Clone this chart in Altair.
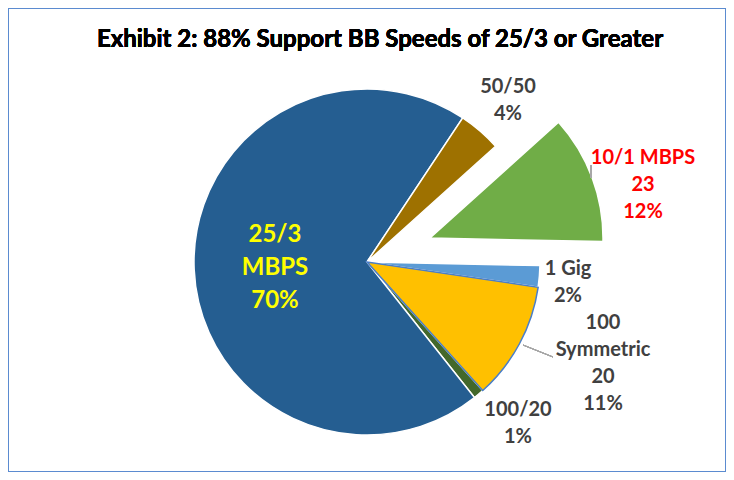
import math
import altair as alt
import pandas as pd

# ---- data ----
categories = ["10/1 MBPS", "1 Gig", "100 Symmetric", "100/20", "25/3 MBPS", "50/50"]
percents = [12, 2, 11, 1, 70, 4]
counts_shown = ["23", "", "20", "", "", ""]
colors = ["#70AD47", "#5B9BD5", "#FFC000", "#43682B", "#255E91", "#9E7100"]
title_text = "Exhibit 2: 88% Support BB Speeds of 25/3 or Greater"

# ---- layout (pixels, chart coordinates) ----
W, H = 718, 464
CX, CY = 359, 254
R = 173
START = math.radians(48)
EXPLODE = {"10/1 MBPS": (63, -24)}
# position of the first line of each label
label_pos = {
    "10/1 MBPS": (635, 150),
    "1 Gig": (560, 261),
    "100 Symmetric": (595, 315),
    "100/20": (510, 402),
    "25/3 MBPS": (267, 227),
    "50/50": (500, 79),
}

def label_text(cat, pct, cnt):
    name = cat
    if cat == "25/3 MBPS":
        name = "25/3\nMBPS"
    elif cat == "100 Symmetric":
        name = "100\nSymmetric"
    parts = [name]
    if cnt:
        parts.append(cnt)
    parts.append(f"{pct}%")
    return "\n".join(parts)

df = pd.DataFrame({
    "cat": categories,
    "pct": percents,
    "order": list(range(len(categories))),
    "label": [label_text(c, p, n) for c, p, n in zip(categories, percents, counts_shown)],
})

theta_scale = alt.Scale(domain=[0, 100], range=[START, START + 2 * math.pi])
color_scale = alt.Scale(domain=categories, range=colors)

base = alt.Chart(df).transform_window(
    cum="sum(pct)", sort=[alt.SortField("order")], frame=[None, 0]
).transform_calculate(start="datum.cum - datum.pct")

def arc_layer(filt, dx=0, dy=0, stroke="white", sw=1.5):
    return base.transform_filter(filt).mark_arc(
        stroke=stroke, strokeWidth=sw, radius=R
    ).encode(
        theta=alt.Theta("start:Q", scale=theta_scale),
        theta2="cum:Q",
        color=alt.Color("cat:N", scale=color_scale, legend=None),
        x=alt.value(CX + dx),
        y=alt.value(CY + dy),
    )

normal = arc_layer("datum.cat != '10/1 MBPS' && datum.cat != '100 Symmetric'")
yellow = arc_layer("datum.cat == '100 Symmetric'", stroke="#4A7EC8", sw=1.5)
green = arc_layer("datum.cat == '10/1 MBPS'", *EXPLODE["10/1 MBPS"])

layers = [normal, yellow, green]

label_style = {
    "10/1 MBPS": dict(color="#FF0000", fontSize=20, lineHeight=27),
    "25/3 MBPS": dict(color="#FFFF00", fontSize=24, lineHeight=33),
}
for cat in categories:
    st = label_style.get(cat, dict(color="#404040", fontSize=20, lineHeight=27))
    x, y = label_pos[cat]
    layers.append(
        alt.Chart(df).transform_filter(alt.datum.cat == cat).mark_text(
            font="Lato", fontWeight="bold", align="center", baseline="middle",
            lineBreak="\n", **st
        ).encode(text="label:N", x=alt.value(x), y=alt.value(y))
    )

# leader lines
layers.append(alt.Chart(df).mark_rule(color="#A6A6A6", strokeWidth=1).encode(
    x=alt.value(583), y=alt.value(157), x2=alt.value(583), y2=alt.value(170)))
layers.append(alt.Chart(df).mark_rule(color="#A6A6A6", strokeWidth=1).encode(
    x=alt.value(515), y=alt.value(337), x2=alt.value(545), y2=alt.value(349)))

title = alt.Chart(df).mark_text(
    font="Lato", fontWeight="bold", fontSize=24, color="#000000",
    align="center", baseline="middle"
).encode(text=alt.value(title_text), x=alt.value(372), y=alt.value(32))
layers.append(title)

chart = alt.layer(*layers).properties(
    width=W, height=H, autosize=alt.AutoSizeParams(type="none"), padding=0
).configure_view(stroke="#5B8BD0", strokeWidth=2)

chart.save("out.html", embed_options={"renderer": "svg", "actions": False})
